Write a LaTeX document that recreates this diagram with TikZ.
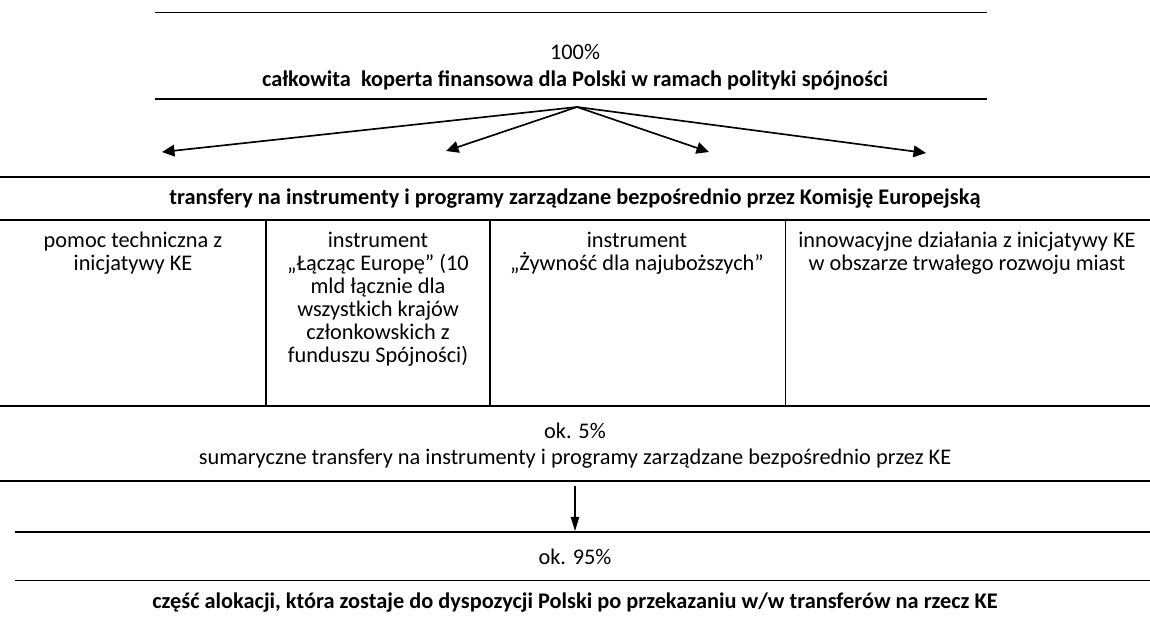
\documentclass[tikz,border=0pt]{standalone}
\usepackage{fontspec}
\setmainfont{Carlito}
\usetikzlibrary{arrows.meta}

\tikzset{
  txt/.style={font=\fontsize{13.4}{13.8}\selectfont, inner sep=0pt},
  bold/.style={txt, font=\fontsize{13.4}{13.8}\selectfont\bfseries},
  cell/.style={txt, anchor=north, align=center},
  thinrule/.style={line width=0.6pt},
  thickrule/.style={line width=1.5pt},
  fan/.style={line width=1pt, -{Triangle[length=7.5pt, width=7pt]}},
}

\begin{document}
\begin{tikzpicture}[x=0.6pt, y=-0.6pt]
\useasboundingbox (0,0) rectangle (1150,619);

% Top block
\draw[thinrule] (155,12) -- (987,12);
\node[txt] (total) at (575,52) {100\%};
\node[bold] (envelope) at (575,81) {całkowita\ \ koperta finansowa dla Polski w ramach polityki spójności};
\draw[thickrule] (155,99) -- (987,99);

% Arrows
\coordinate (apex) at (577,107);
\coordinate (t1) at (162,152);
\coordinate (t2) at (446,151);
\coordinate (t3) at (709,152);
\coordinate (t4) at (926,153);
\foreach \t in {t1,t2,t3,t4}
  \draw[fan] (apex) -- (\t);

% Table
\draw[line width=0.9pt] (0,177) -- (1150,177);
\node[bold] (transfers) at (575,199) {transfery na instrumenty i programy zarządzane bezpośrednio przez Komisję Europejską};
\draw[thickrule] (0,220) -- (1150,220);
\draw[line width=1pt] (266,220) -- (266,406);
\draw[line width=1pt] (490,220) -- (490,406);
\draw[line width=0.5pt] (785,220) -- (785,406);
\node[cell] (techhelp) at (133,232) {pomoc techniczna z\\inicjatywy KE};
\node[cell] (connect) at (378,232) {instrument\\„Łącząc Europę” (10\\mld łącznie dla\\wszystkich krajów\\członkowskich z\\funduszu Spójności)};
\node[cell] (food) at (637,232) {instrument\\„Żywność dla najuboższych”};
\node[cell] (urban) at (967,232) {innowacyjne działania z inicjatywy KE\\w obszarze trwałego rozwoju miast};
\draw[thickrule] (0,406) -- (1150,406);

% Bottom block
\node[txt] (five) at (575,431) {ok. 5\%};
\node[txt] (sum) at (575,459) {sumaryczne transfery na instrumenty i programy zarządzane bezpośrednio przez KE};
\draw[thickrule] (0,481) -- (1150,481);
\coordinate (down) at (575,486);
\coordinate (rest) at (575,531);
\draw[line width=0.7pt, -{Triangle[length=8.5pt, width=5pt]}] (down) -- (rest);
\draw[thickrule] (15,532) -- (1150,532);
\node[txt] (ninetyfive) at (575,557) {ok. 95\%};
\draw[thinrule] (15,580) -- (1150,580);
\node[bold] (remainder) at (575,603) {część alokacji, która zostaje do dyspozycji Polski po przekazaniu w/w transferów na rzecz KE};
\end{tikzpicture}
\end{document}
